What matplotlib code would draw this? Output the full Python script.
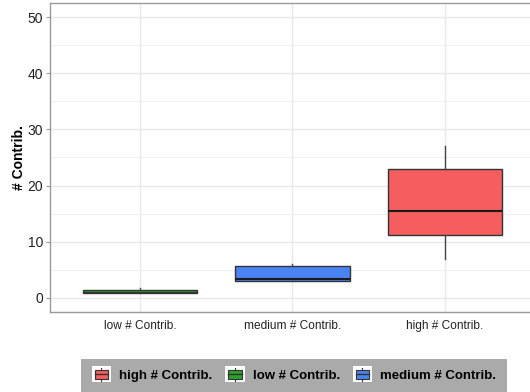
import matplotlib
matplotlib.use("Agg")
import matplotlib.pyplot as plt
from matplotlib.patches import Rectangle
from matplotlib.lines import Line2D
from matplotlib.legend_handler import HandlerBase

plt.rcParams['font.family'] = ['Liberation Sans', 'DejaVu Sans']

# Box summary statistics per group
categories = ["low # Contrib.", "medium # Contrib.", "high # Contrib."]
whisker_low = [0.8, 3, 7]
q1 = [0.8, 3, 11.2]
median = [1, 3.4, 15.5]
q3 = [1.45, 5.75, 23]
whisker_high = [1.8, 6, 27]
fill_colors = ["#2AA22A", "#4A84F4", "#F45E5E"]

legend_labels = ["high # Contrib.", "low # Contrib.", "medium # Contrib."]
legend_colors = ["#F45E5E", "#2AA22A", "#4A84F4"]
yticks = [0, 10, 20, 30, 40, 50]

fig = plt.figure(figsize=(5.30, 3.92), dpi=100)
ax = fig.add_axes([50 / 530, 1 - 312 / 392, 488 / 530, 309 / 392])

stats = []
for i, cat in enumerate(categories):
    stats.append(dict(label=cat, whislo=whisker_low[i], q1=q1[i], med=median[i],
                      q3=q3[i], whishi=whisker_high[i], fliers=[]))

positions = list(range(1, len(categories) + 1))
bp = ax.bxp(stats, positions=positions, widths=0.75, patch_artist=True,
            showcaps=False, showfliers=False,
            boxprops=dict(edgecolor="#333333", linewidth=1.0),
            whiskerprops=dict(color="#444444", linewidth=1.0),
            medianprops=dict(color="#1a1a1a", linewidth=1.5))
for patch, c in zip(bp["boxes"], fill_colors):
    patch.set_facecolor(c)
# the low group's box is very flat; keep its median from hiding the fill
bp["medians"][0].set_linewidth(0.8)
bp["medians"][0].set_color("#2a3a2a")

ax.set_xlim(0.41, 3.61)
ax.set_ylim(-2.5, 52.5)
ax.set_yticks(yticks)
ax.set_yticks([5, 15, 25, 35, 45], minor=True)
ax.set_xticks(positions)
ax.set_xticklabels(categories, fontsize=8.6, color="#222222")
ax.tick_params(axis="y", labelsize=10, colors="#222222", length=3, pad=2,
               color="#999999")
ax.tick_params(axis="y", which="minor", length=0)
ax.tick_params(axis="x", length=0, pad=6)
ax.grid(True, which="major", color="#E8E8E8", linewidth=1.0)
ax.grid(True, which="minor", axis="y", color="#F0F0F0", linewidth=0.8)
ax.set_axisbelow(True)
for side in ["left", "bottom", "top"]:
    ax.spines[side].set_color("#9A9A9A")
    ax.spines[side].set_linewidth(1.0)
ax.spines["right"].set_visible(False)
ax.set_ylabel("# Contrib.", fontsize=10, fontweight="bold", labelpad=1)


class BoxKeyHandler(HandlerBase):
    def create_artists(self, legend, orig_handle, xdescent, ydescent,
                       width, height, fontsize, trans):
        h = fontsize * 1.2
        w = width
        x0 = -xdescent
        y0 = -ydescent + (height - h) / 2
        bg = Rectangle((x0, y0), w, h, facecolor="white", edgecolor="none",
                       transform=trans)
        bw = w * 0.68
        bh = h * 0.55
        bx = x0 + (w - bw) / 2
        by = y0 + (h - bh) / 2
        box = Rectangle((bx, by), bw, bh, facecolor=orig_handle.get_facecolor(),
                        edgecolor="#333333", linewidth=0.8, transform=trans)
        mid = Line2D([bx, bx + bw], [y0 + h / 2] * 2, color="#333333",
                     linewidth=1.0, transform=trans)
        wt = Line2D([x0 + w / 2] * 2, [by + bh, y0 + h * 0.9], color="#333333",
                    linewidth=0.8, transform=trans)
        wb = Line2D([x0 + w / 2] * 2, [by, y0 + h * 0.1], color="#333333",
                    linewidth=0.8, transform=trans)
        return [bg, box, mid, wt, wb]


handles = [Rectangle((0, 0), 1, 1, facecolor=c) for c in legend_colors]
leg = fig.legend(handles, legend_labels, loc="upper left",
                 bbox_to_anchor=(81 / 530, 1 - 359 / 392), ncol=3,
                 handler_map={Rectangle: BoxKeyHandler()},
                 prop=dict(size=9.5, weight="bold"), frameon=True,
                 facecolor="#AAAAAA", edgecolor="none", fancybox=False,
                 framealpha=1.0, handlelength=1.5, handletextpad=0.6,
                 columnspacing=0.95, borderpad=0.8, borderaxespad=0)

fig.savefig("out.png", dpi=100)
